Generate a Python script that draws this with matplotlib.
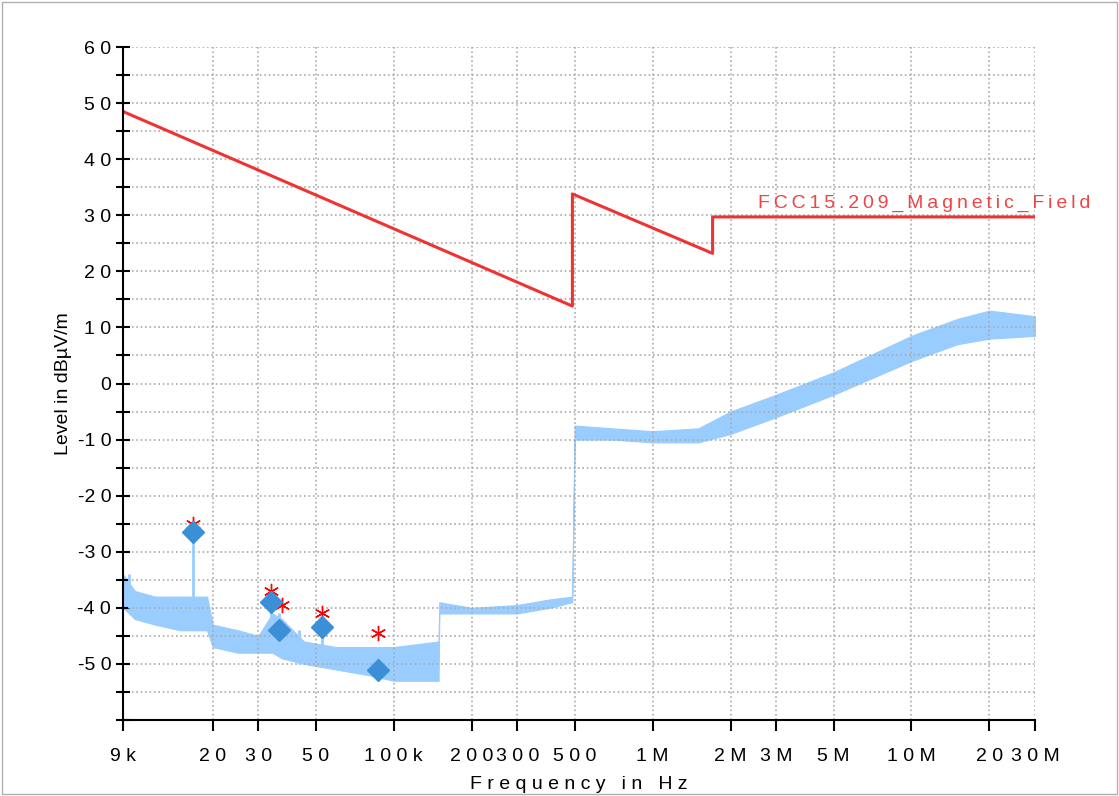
import matplotlib.pyplot as plt
from matplotlib.ticker import FixedLocator, MultipleLocator, NullLocator

plt.rcParams['font.family'] = ['Liberation Sans', 'DejaVu Sans']

# limit line FCC15.209 magnetic field
limit_f = [9e3, 490e3, 490e3, 1.705e6, 1.705e6, 30e6]
limit_db = [48.5, 13.8, 33.8, 23.2, 29.7, 29.7]

env_f = [9e3, 10e3, 12e3, 15e3, 17e3, 19e3, 20e3, 25e3, 30e3, 34e3, 37e3, 45e3, 60e3, 80e3, 100e3, 149e3,
         150e3, 200e3, 300e3, 400e3, 489e3, 500e3, 700e3, 1e6, 1.5e6, 2e6, 3e6, 5e6, 10e6, 15e6, 20e6, 30e6]
env_lo = [-40, -42, -43, -44, -44, -44, -47, -48, -48, -48, -49, -50, -51, -52, -53, -53,
          -41, -41, -41, -40, -39, -10, -10, -10.5, -10.5, -9, -6, -2, 4, 7, 8, 8.5]
env_hi = [-34, -37, -38, -38, -38, -38, -43, -44, -45, -41, -42, -46, -47, -47, -47, -46,
          -39, -40, -39.5, -38.5, -38, -7.5, -8, -8.5, -8, -5, -2, 2, 8.5, 11.5, 13, 12]

# narrow spikes in the trace
spike_f = [9.5e3, 16.8e3, 33.6e3, 36e3, 43e3, 52.9e3]
spike_lo = [-40, -40, -45, -46, -50, -47]
spike_hi = [-34, -26, -38, -41, -44, -44]

# peaks
peak_f = [16.8e3, 33.6e3, 36e3, 52.9e3, 87e3]
peak_db = [-26.5, -39, -44, -43.5, -51]
qp_f = [16.8e3, 33.6e3, 37e3, 53e3, 87e3]
qp_db = [-25, -37, -39.5, -41, -44.5]

xtick_f = [9e3, 20e3, 30e3, 50e3, 100e3, 200e3, 300e3, 500e3, 1e6, 2e6, 3e6, 5e6, 10e6, 20e6, 30e6]
xtick_lab = ['9k', '20', '30', '50', '100k', '200', '300', '500', '1M', '2M', '3M', '5M', '10M', '20', '30M']

fig = plt.figure(figsize=(11.19, 7.96), dpi=100)
ax = fig.add_axes([123 / 1119, 1 - 720 / 796, (1035 - 123) / 1119, (720 - 47) / 796])
fig.patches.append(plt.Rectangle((0.002, 0.002), 0.996, 0.996, transform=fig.transFigure,
                                 fill=False, edgecolor='#b0b0b0', lw=1))

light = '#99ccff'
ax.fill_between(env_f, env_lo, env_hi, color=light, lw=0.8, edgecolor=light)
ax.vlines(spike_f, spike_lo, spike_hi, color=light, lw=2)
ax.plot(limit_f, limit_db, color='#ee3333', lw=2.2)
ax.text(2.55e6, 30.5, 'F C C 1 5 . 2 0 9 _ M a g n e t i c _ F i e l d'.replace(' ', '\u2009'),
        color='#ee4444', fontsize=14, ha='left', va='bottom', clip_on=False)
ax.plot(qp_f, qp_db, ls='none', marker=(6, 2, 0), color='red', ms=11, mew=1.0)
ax.plot(peak_f, peak_db, ls='none', marker='D', color='#3a8fd6', ms=11)

ax.set_xscale('log')
ax.set_xlim(9e3, 30e6)
ax.set_ylim(-60, 60)
ax.xaxis.set_major_locator(FixedLocator(xtick_f))
ax.set_xticklabels([' '.join(t) for t in xtick_lab])
ax.xaxis.set_minor_locator(NullLocator())
ax.yaxis.set_major_locator(MultipleLocator(10))
ax.yaxis.set_minor_locator(MultipleLocator(5))
ax.set_yticks(range(-50, 61, 10))
ax.set_yticklabels([' '.join(str(v)).replace('- ', '-') for v in range(-50, 61, 10)])
ax.grid(True, which='both', ls=':', color='#aaaaaa', lw=1.2)
ax.tick_params(axis='y', which='both', direction='inout', length=10, width=1.5, labelsize=14)
ax.tick_params(axis='x', direction='out', length=8, width=1.5, labelsize=14, pad=12)
for s in ['top', 'right']:
    ax.spines[s].set_visible(False)
for s in ['left', 'bottom']:
    ax.spines[s].set_linewidth(1.5)
ax.set_xlabel('F r e q u e n c y   i n   H z', fontsize=14, labelpad=8)
ax.set_ylabel('Level in dBµV/m', fontsize=14)
fig.savefig('out.png', dpi=100)
